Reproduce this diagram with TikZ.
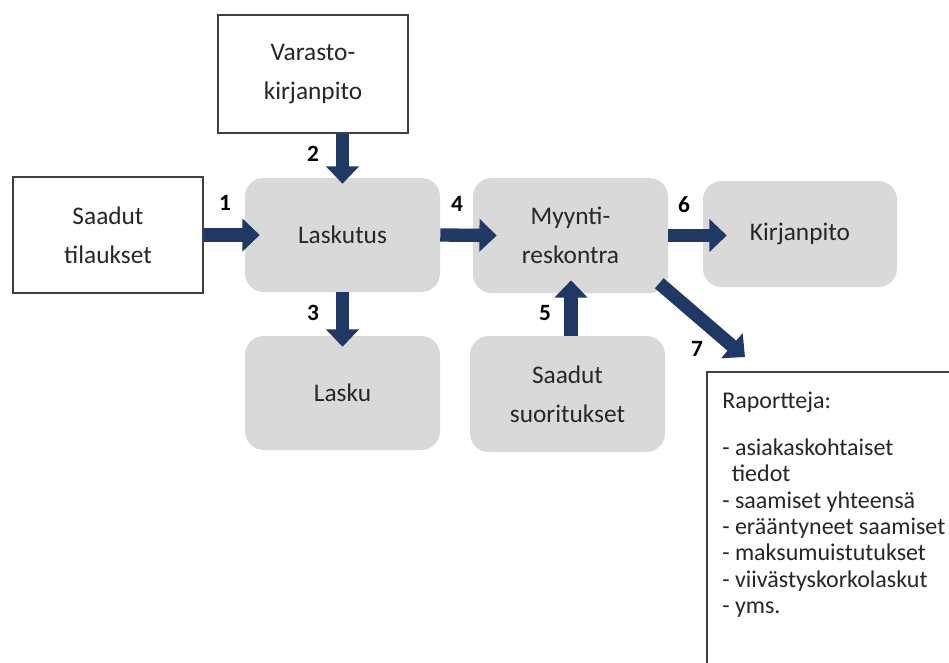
\documentclass[tikz,border=0pt]{standalone}
\usepackage{fontspec}
\setmainfont{Carlito}
\usetikzlibrary{arrows.meta,calc}
\definecolor{navy}{RGB}{31,56,100}
\definecolor{boxgray}{RGB}{217,217,217}
\definecolor{framegray}{RGB}{64,64,64}
\begin{document}
\begin{tikzpicture}[x=0.75pt,y=-0.75pt,
  whitebox/.style={draw=framegray,line width=0.9pt,fill=white,align=center,
    font=\fontsize{19}{29}\selectfont,text=black!85},
  graybox/.style={fill=boxgray,rounded corners=14pt,align=center,
    font=\fontsize{19}{29}\selectfont,text=black!85},
  bigarrow/.style={draw=navy,line width=10pt,-{Triangle[width=24pt,length=13pt]}},
  numlab/.style={font=\fontsize{17.5}{20}\selectfont\bfseries,text=black}]
\clip (0,0) rectangle (949,662);
\fill[white] (0,0) rectangle (949,662);
% boxes
\node[whitebox,minimum width=190*0.75pt,minimum height=116*0.75pt] (tilaukset) at (108,235) {Saadut\\tilaukset};
\node[whitebox,minimum width=190*0.75pt,minimum height=118*0.75pt] (varasto) at (313,74) {Varasto-\\kirjanpito};
\node[graybox,minimum width=195*0.75pt,minimum height=114*0.75pt] (laskutus) at (342.5,235) {Laskutus};
\node[graybox,minimum width=195*0.75pt,minimum height=115*0.75pt] (myynti) at (570.5,235.5) {Myynti-\\reskontra};
\node[graybox,minimum width=194*0.75pt,minimum height=106*0.75pt] (kirjanpito) at (800,234) {Kirjanpito};
\node[graybox,minimum width=195*0.75pt,minimum height=114*0.75pt] (lasku) at (342.5,393) {Lasku};
\node[graybox,minimum width=195*0.75pt,minimum height=116*0.75pt] (suoritukset) at (567.5,394) {Saadut\\suoritukset};
% report box
\node[anchor=north west,inner sep=0pt,align=left,text=black!85,
  font=\fontsize{18}{19.7}\selectfont] (raportit) at (722,392)
  {Raportteja:\\[15.5pt]
   - asiakaskohtaiset\\
   \hspace*{0.4em}tiedot\\
   - saamiset yhteensä\\
   - erääntyneet saamiset\\
   - maksumuistutukset\\
   - viivästyskorkolaskut\\
   - yms.};
\draw[draw=framegray,line width=0.9pt] ($(raportit.north west)+(240,-20)$) -- ($(raportit.north west)+(-15,-20)$) -- ($(raportit.north west)+(-15,300)$);
% arrows
\draw[bigarrow] (tilaukset.east) -- ($(laskutus.west)+(15,0)$);
\draw[bigarrow] (varasto.south -| laskutus.north) -- ($(laskutus.north)+(0,6)$);
\draw[bigarrow] (laskutus.south) -- ($(lasku.north)+(0,11)$);
\draw[bigarrow] (laskutus.east) -- ($(myynti.west)+(24,0)$);
\draw[bigarrow] ($(suoritukset.north)+(3.5,0)$) -- ($(myynti.south)+(0.5,-13)$);
\draw[bigarrow] (myynti.east) -- ($(kirjanpito.west |- myynti.east)+(24,0)$);
\draw[bigarrow] ($(myynti.south east)+(-9,-10)$) -- ($(raportit.north west)+(23,-35)$);
% numbers
\node[numlab] (n1) at (225,203) {1};
\node[numlab] (n2) at (313,154) {2};
\node[numlab] (n3) at (313,313) {3};
\node[numlab] (n4) at (457,204) {4};
\node[numlab] (n5) at (545,313) {5};
\node[numlab] (n6) at (684,205) {6};
\node[numlab] (n7) at (697,349) {7};
\end{tikzpicture}
\end{document}
